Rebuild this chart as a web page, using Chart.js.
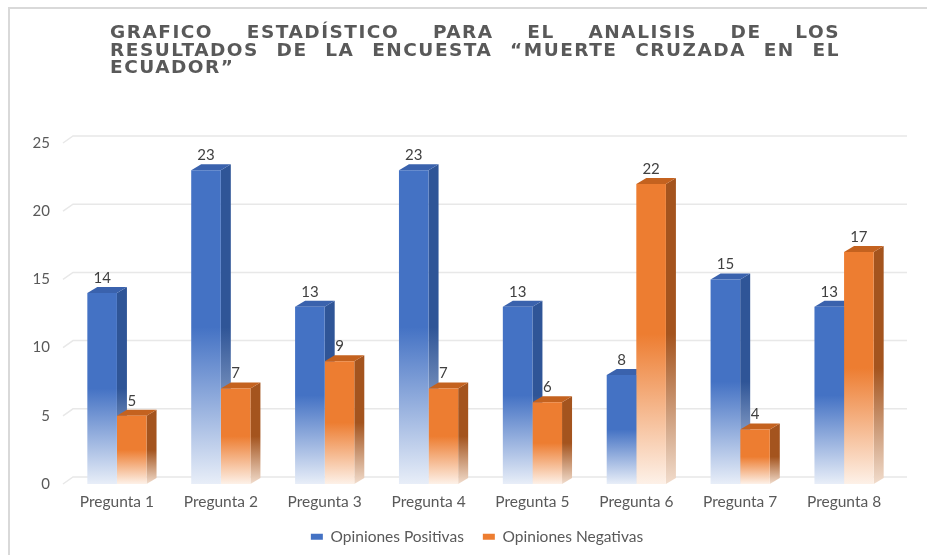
<!DOCTYPE html>
<html>
<head>
<meta charset="utf-8">
<script src="https://cdn.jsdelivr.net/npm/chart.js@4.4.0/dist/chart.umd.min.js"></script>
<style>
  html, body { margin: 0; padding: 0; background: #fff; }
  #wrap { position: relative; width: 927px; height: 555px; overflow: hidden; }
  #frame { position: absolute; left: 8px; top: 7px; width: 960px; height: 600px; border: 2px solid #d9d9d9; box-sizing: border-box; }
  #title { position: absolute; left: 110px; top: 23px; width: 730px; font-family: "DejaVu Sans", sans-serif; font-weight: bold; font-size: 18.5px; line-height: 17.5px; letter-spacing: 1.5px; color: #595959; }
  #title .j { text-align: justify; text-align-last: justify; }
  canvas { position: absolute; left: 0; top: 0; }
</style>
</head>
<body>
<div id="wrap">
  <div id="frame"></div>
  <canvas id="chart" width="927" height="555"></canvas>
  <div id="title">
    <div class="j">GRAFICO ESTADÍSTICO PARA EL ANALISIS DE LOS</div>
    <div class="j">RESULTADOS DE LA ENCUESTA “MUERTE CRUZADA EN EL</div>
    <div>ECUADOR”</div>
  </div>
</div>
<script>
let categories = ["Pregunta 1", "Pregunta 2", "Pregunta 3", "Pregunta 4", "Pregunta 5", "Pregunta 6", "Pregunta 7", "Pregunta 8"]
let positivas = [14, 23, 13, 23, 13, 8, 15, 13]
let negativas = [5, 7, 9, 7, 6, 22, 4, 17]
let yTicks = [0, 5, 10, 15, 20, 25]

let font = "Lato"
let dx = 10, dy = 6

// front face: solid on top half, fading to almost white at the floor
function fade(color, light) {
    return function(ctx) {
        if (ctx.type !== "data" || ctx.raw === undefined || !ctx.chart.chartArea) return color
        let y = ctx.chart.scales.y
        let top = y.getPixelForValue(ctx.raw)
        let bot = y.getPixelForValue(0)
        let g = ctx.chart.ctx.createLinearGradient(0, top, 0, bot)
        g.addColorStop(0, color)
        g.addColorStop(0.5, color)
        g.addColorStop(1, light)
        return g
    }
}

let depth3d = {
    id: "depth3d",
    afterLayout(chart) {
        // legend is centred under the plot, not under the whole canvas
        chart.legend.left += 24
        chart.legend.right += 24
        chart.legend.top -= 4
        chart.legend.bottom -= 4
    },
    beforeDatasetsDraw(chart) {
        let c = chart.ctx
        let area = chart.chartArea
        let y = chart.scales.y
        // back wall grid lines with a small slant on the side wall
        c.save()
        c.strokeStyle = "#e8e8e8"
        c.lineWidth = 1.5
        y.ticks.forEach(t => {
            let py = y.getPixelForValue(t.value)
            c.beginPath()
            c.moveTo(area.left - 2, py)
            c.lineTo(area.left + 8, py - 7)
            c.lineTo(area.right + 11, py - 7)
            c.stroke()
        })
        // side and top faces of the bars
        chart.data.datasets.forEach((ds, i) => {
            chart.getDatasetMeta(i).data.forEach(bar => {
                let p = bar.getProps(["x", "y", "base", "width"], true)
                let l = p.x - p.width / 2
                let r = p.x + p.width / 2
                let g = c.createLinearGradient(0, p.y, 0, p.base)
                g.addColorStop(0, ds.sideColor)
                g.addColorStop(0.5, ds.sideColor)
                g.addColorStop(1, ds.sideLight)
                c.fillStyle = g
                c.beginPath()
                c.moveTo(r, p.y)
                c.lineTo(r + dx, p.y - dy)
                c.lineTo(r + dx, p.base - dy)
                c.lineTo(r, p.base)
                c.closePath()
                c.fill()
                c.fillStyle = ds.topColor
                c.beginPath()
                c.moveTo(l, p.y)
                c.lineTo(l + dx, p.y - dy)
                c.lineTo(r + dx, p.y - dy)
                c.lineTo(r, p.y)
                c.closePath()
                c.fill()
            })
        })
        c.restore()
    },
    afterDatasetsDraw(chart) {
        let c = chart.ctx
        c.save()
        c.fillStyle = "#404040"
        c.font = "15px " + font
        c.textAlign = "center"
        c.textBaseline = "middle"
        chart.data.datasets.forEach((ds, i) => {
            chart.getDatasetMeta(i).data.forEach((bar, j) => {
                let p = bar.getProps(["x", "y"], true)
                c.fillText(ds.data[j], p.x, p.y - 15)
            })
        })
        c.restore()
    }
}

let chart = new Chart(
    document.querySelector("#chart"),
    {
        type: "bar",
        data: {
            labels: categories,
            datasets: [
                {
                    label: "Opiniones Positivas",
                    data: positivas,
                    backgroundColor: fade("#4472C4", "#E8EEF8"),
                    frontColor: "#4472C4",
                    sideColor: "#2F5597",
                    sideLight: "#D0DAEC",
                    topColor: "#3A62AD"
                },
                {
                    label: "Opiniones Negativas",
                    data: negativas,
                    backgroundColor: fade("#ED7D31", "#FDF1E8"),
                    frontColor: "#ED7D31",
                    sideColor: "#A4541E",
                    sideLight: "#F1DCCC",
                    topColor: "#C4621F"
                }
            ]
        },
        options: {
            responsive: false,
            animation: false,
            devicePixelRatio: 1,
            layout: { padding: { top: 143, left: 10, right: 31, bottom: -3.5 } },
            datasets: { bar: { categoryPercentage: 0.57, barPercentage: 1 } },
            plugins: {
                legend: {
                    position: "bottom",
                    labels: {
                        boxWidth: 12,
                        boxHeight: 6,
                        padding: 19,
                        color: "#595959",
                        font: { family: font, size: 15.5 },
                        generateLabels(chart) {
                            return Chart.defaults.plugins.legend.labels.generateLabels(chart).map(item => {
                                let ds = chart.data.datasets[item.datasetIndex]
                                item.fillStyle = ds.frontColor
                                item.strokeStyle = ds.frontColor
                                item.lineWidth = 0
                                return item
                            })
                        }
                    }
                },
                tooltip: { enabled: false }
            },
            scales: {
                x: {
                    grid: { display: false, drawTicks: false },
                    border: { display: false },
                    ticks: { padding: 9, color: "#595959", font: { family: font, size: 15.5 } },
                    afterFit(s) { s.height = 30 }
                },
                y: {
                    min: 0,
                    max: 25,
                    grid: { display: false, drawTicks: false },
                    border: { display: false },
                    ticks: { padding: 15, color: "#595959", font: { family: font, size: 15 } },
                    afterBuildTicks(s) { s.ticks = yTicks.map(v => ({ value: v })) },
                    afterFit(s) { s.width = 55 }
                }
            }
        },
        plugins: [depth3d]
    }
)
</script>
</body>
</html>
